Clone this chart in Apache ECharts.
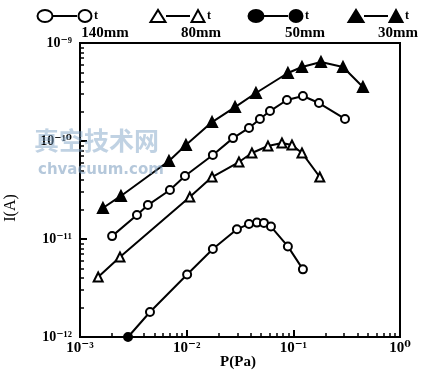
<!DOCTYPE html>
<html><head><meta charset="utf-8">
<script src="https://cdn.jsdelivr.net/npm/echarts@6/dist/echarts.min.js"></script>
<style>html,body{margin:0;padding:0;background:#fff}#c{width:433px;height:374px}</style>
</head><body><div id="c"></div>
<script>
// ---- data (P in Pa, I in A) ----
const p140 = [0.00200,0.00342,0.00433,0.00697,0.00964,0.0176,0.0272,0.0384,0.0486,0.0604,0.0871,0.123,0.174,0.305];
const i140 = [1.07e-11,1.76e-11,2.22e-11,3.16e-11,4.4e-11,7.2e-11,1.07e-10,1.36e-10,1.68e-10,2.02e-10,2.62e-10,2.88e-10,2.44e-10,1.68e-10];
const p80 = [0.00148,0.00237,0.0107,0.0173,0.0309,0.0409,0.0578,0.0782,0.0971,0.1205,0.177];
const i80 = [4.09e-12,6.55e-12,2.68e-11,4.29e-11,6.1e-11,7.55e-11,8.89e-11,9.54e-11,9.1e-11,7.55e-11,4.29e-11];
const p50 = [0.00282,0.00453,0.0101,0.0176,0.0296,0.0384,0.0456,0.0530,0.0617,0.0889,0.123];
const i50 = [1.0e-12,1.80e-12,4.35e-12,7.9e-12,1.26e-11,1.42e-11,1.47e-11,1.46e-11,1.34e-11,8.4e-12,4.9e-12];
const p30 = [0.00164,0.00242,0.00682,0.00984,0.0173,0.0284,0.0446,0.0889,0.1205,0.1816,0.292,0.449];
const i30 = [2.07e-11,2.75e-11,6.25e-11,9.1e-11,1.56e-10,2.22e-10,3.09e-10,4.94e-10,5.69e-10,6.4e-10,5.69e-10,3.56e-10];
const seriesNames = ['140mm','80mm','50mm','30mm'];
const xExp = [-3,-2,-1,0];
const xTickLabels = ['10\u207B\u00B3','10\u207B\u00B2','10\u207B\u00B9','10\u2070'];
const yExp = [-12,-11,-10,-9];
const yTickLabels = ['10\u207B\u00B9\u00B2','10\u207B\u00B9\u00B9','10\u207B\u00B9\u2070','10\u207B\u2079'];
const xTitle = 'P(Pa)';
const yTitle = 'I(A)';

// minor tick positions in log10 space (2..9 per decade)
function minorLog(e0, e1){
  const out=[];
  for(let e=e0;e<e1;e++) for(let k=2;k<=9;k++) out.push(e+Math.log10(k));
  return out;
}
function lab(exps, labels){
  return v => { const e=Math.round(Math.log10(v)); const i=exps.indexOf(e); return i>=0?labels[i]:''; };
}
const serif = 'Liberation Serif, DejaVu Serif, serif';
const G = {left:80, right:33, top:43, bottom:37};

const pairs = (ps, is) => ps.map((p,k)=>[p,is[k]]);
const mk = (name, ps, is, symbol, fill, size, firstFill) => ({
  name, type:'line', xAxisIndex:0, yAxisIndex:0, clip:false,
  data: pairs(ps,is).map((d,k)=> (firstFill && k===0) ? {value:d, itemStyle:{color:'#000'}} : d),
  symbol, symbolSize:size, showSymbol:true,
  lineStyle:{color:'#000', width:2},
  itemStyle:{color:fill, borderColor:'#000', borderWidth:2},
  z:3
});

const chart = echarts.init(document.getElementById('c'), null, {renderer:'canvas'});
const legendItems = [
  {x:37, sym:'circle', fill:'#fff', lbl:seriesNames[0], lx:105},
  {x:150, sym:'triangle', fill:'#fff', lbl:seriesNames[1], lx:201},
  {x:248, sym:'circle', fill:'#000', lbl:seriesNames[2], lx:305},
  {x:348, sym:'triangle', fill:'#000', lbl:seriesNames[3], lx:398}
];
const graphics = [];
legendItems.forEach(it=>{
  const y=16;
  const shape = (cx, w) => it.sym==='circle'
    ? {type:'ellipse', shape:{cx, cy:y, rx:w/2, ry:6}, style:{fill:it.fill, stroke:'#000', lineWidth:2}}
    : {type:'polygon', shape:{points:[[cx-w/2,y+6],[cx+w/2,y+6],[cx,y-6]]}, style:{fill:it.fill, stroke:'#000', lineWidth:2}};
  graphics.push(shape(it.x+8, 15));
  graphics.push({type:'line', shape:{x1:it.x+16,y1:y,x2:it.x+40,y2:y}, style:{stroke:'#000', lineWidth:2}});
  graphics.push(shape(it.x+48, 13));
  graphics.push({type:'text', x:it.x+57, y:y-6, style:{text:'t', font:'bold 12px '+serif, fill:'#000'}});
  graphics.push({type:'text', x:it.lx, y:33, style:{text:it.lbl, font:'bold 15px '+serif, fill:'#000', align:'center', verticalAlign:'middle'}});
});
graphics.push({type:'text', x:11, y:208, rotation:Math.PI/2, style:{text:yTitle, font:'16px '+serif, fill:'#000', align:'center', verticalAlign:'middle'}});
graphics.push({type:'text', x:238, y:362, style:{text:xTitle, font:'bold 15px '+serif, fill:'#000', align:'center', verticalAlign:'middle'}});
// watermark
graphics.push({type:'text', x:34, y:140, z:10, style:{text:'真空技术网', font:'bold 25px "Noto Sans CJK SC"', fill:'rgba(130,165,200,0.5)', verticalAlign:'middle'}});
graphics.push({type:'text', x:38, y:170, z:10, style:{text:'chvacuum.com', font:'bold 15px "DejaVu Sans", sans-serif', fill:'rgba(120,155,190,0.55)', verticalAlign:'middle'}});

chart.setOption({
  animation:false,
  backgroundColor:'#fff',
  grid:[
    Object.assign({show:true, borderColor:'#000', borderWidth:2, backgroundColor:'transparent'}, G),
    Object.assign({}, G)
  ],
  xAxis:[
    {type:'log', logBase:10, min:0.001, max:1, gridIndex:0, position:'bottom',
     axisLine:{lineStyle:{color:'#000', width:2}},
     axisTick:{inside:true, length:7, lineStyle:{color:'#000', width:2}},
     axisLabel:{formatter:lab(xExp,xTickLabels), color:'#000', fontFamily:serif, fontWeight:'bold', fontSize:15, margin:4},
     splitLine:{show:false}},
    {type:'value', min:-3, max:0, gridIndex:1, position:'bottom',
     axisLine:{show:false, onZero:false}, axisLabel:{show:false}, splitLine:{show:false},
     axisTick:{show:true, inside:true, length:4, customValues:minorLog(-3,0), lineStyle:{color:'#000', width:1.5}}}
  ],
  yAxis:[
    {type:'log', logBase:10, min:1e-12, max:1e-9, gridIndex:0, position:'left',
     axisLine:{show:true, lineStyle:{color:'#000', width:2}},
     axisTick:{show:true, inside:true, length:7, lineStyle:{color:'#000', width:2}},
     axisLabel:{formatter:lab(yExp,yTickLabels), color:'#000', fontFamily:serif, fontWeight:'bold', fontSize:14, margin:8},
     splitLine:{show:false}},
    {type:'value', min:-12, max:-9, gridIndex:1, position:'left',
     axisLine:{show:false, onZero:false}, axisLabel:{show:false}, splitLine:{show:false},
     axisTick:{show:true, inside:true, length:4, customValues:minorLog(-12,-9), lineStyle:{color:'#000', width:1.5}}}
  ],
  series:[
    mk(seriesNames[0], p140, i140, 'circle', '#fff', 8, false),
    mk(seriesNames[1], p80, i80, 'triangle', '#fff', 9, false),
    mk(seriesNames[2], p50, i50, 'circle', '#fff', 8, true),
    mk(seriesNames[3], p30, i30, 'triangle', '#000', 10, false),
    {type:'line', xAxisIndex:1, yAxisIndex:1, data:[], silent:true}
  ],
  graphic: graphics
});
</script></body></html>
